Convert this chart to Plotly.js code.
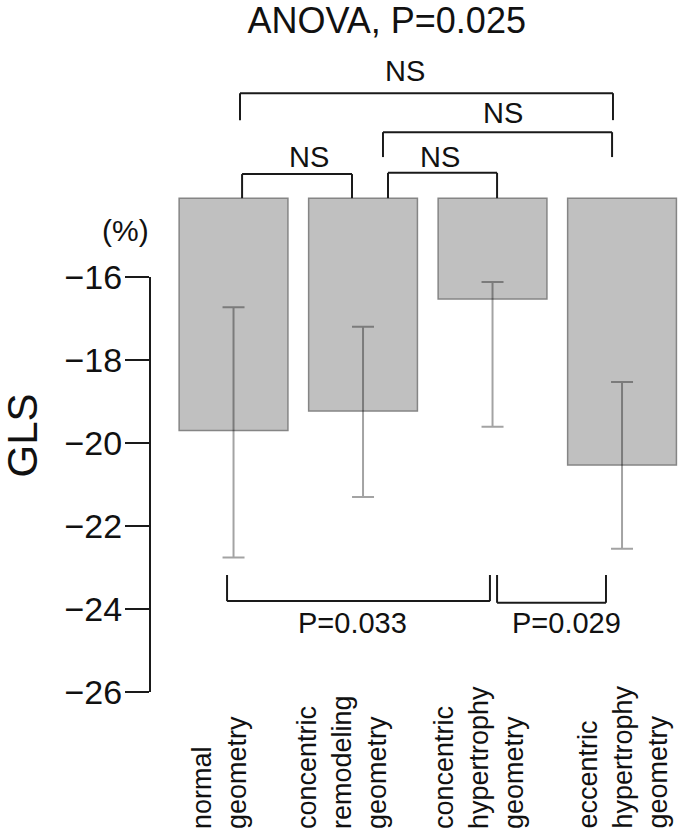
<!DOCTYPE html>
<html>
<head>
<meta charset="utf-8">
<script src="https://cdn.plot.ly/plotly-3.0.1.min.js"></script>
<style>html,body{margin:0;padding:0;background:#fff;}</style>
</head>
<body>
<div id="chart" style="width:693px;height:836px;"></div>
<script>
// ---- data ----
var categories = ["normal geometry", "concentric remodeling geometry", "concentric hypertrophy geometry", "eccentric hypertrophy geometry"];
var categoryLines = [["normal", "geometry"], ["concentric", "remodeling", "geometry"], ["concentric", "hypertrophy", "geometry"], ["eccentric", "hypertrophy", "geometry"]];
var glsMean = [-19.7, -19.23, -16.53, -20.53];
var errUp = [2.97, 2.03, 0.41, 2.0];
var errDown = [3.06, 2.07, 3.08, 2.02];
var barBase = -14.1;
var yTicks = [-16, -18, -20, -22, -24, -26];
var titleText = "ANOVA, P=0.025";
// comparisons: [x-left, x-right, y of bar line, y of leg end, label, label x, label y]
var topBrackets = [
  [0.05, 2.93, -11.57, -12.22, "NS", 1.324, -11.04],
  [1.154, 2.923, -12.51, -13.11, "NS", 2.08, -12.05],
  [0.066, 0.915, -13.52, -14.1, "NS", 0.583, -13.11],
  [1.193, 2.035, -13.49, -14.1, "NS", 1.595, -13.11]
];
var bottomBrackets = [
  [-0.05, 1.98, -23.81, -23.18, "P=0.033", 0.915, -24.34],
  [2.035, 2.876, -23.85, -23.18, "P=0.029", 2.568, -24.34]
];

var FONT = "Arial, 'Liberation Sans', sans-serif";
var xIdx = categories.map(function(c, i){ return i; });

var trace = {
  type: "bar",
  x: xIdx,
  y: glsMean.map(function(v){ return v - barBase; }),
  base: barBase,
  width: 0.84,
  marker: {color: "#c0c0c0", line: {color: "#858585", width: 1.5}},
  error_y: {type: "data", symmetric: false, array: errUp, arrayminus: errDown,
            color: "rgba(0,0,0,0.36)", thickness: 2, width: 11},
  hovertext: categories,
  showlegend: false
};

var shapes = [];
var annotations = [];
function addBracket(b) {
  var ln = {color: "#1a1a1a", width: 2};
  shapes.push({type: "line", xref: "x", yref: "y", x0: b[0], x1: b[1], y0: b[2], y1: b[2], line: ln});
  shapes.push({type: "line", xref: "x", yref: "y", x0: b[0], x1: b[0], y0: b[2], y1: b[3], line: ln});
  shapes.push({type: "line", xref: "x", yref: "y", x0: b[1], x1: b[1], y0: b[2], y1: b[3], line: ln});
  annotations.push({xref: "x", yref: "y", x: b[5], y: b[6], text: b[4], showarrow: false,
    xanchor: "center", yanchor: "middle", font: {family: FONT, size: 29, color: "#111"}});
}
topBrackets.forEach(addBracket);
bottomBrackets.forEach(addBracket);

// y axis line (only over tick span)
shapes.push({type: "line", xref: "paper", yref: "y", x0: 0, x1: 0, y0: yTicks[0], y1: yTicks[yTicks.length-1],
  line: {color: "#1a1a1a", width: 2}});

var xShift = [-14, -21, -13, 1];
categoryLines.forEach(function(lines, i){
  annotations.push({xref: "x", yref: "paper", x: i, y: 0.006, xshift: xShift[i], text: lines.join("<br>"),
    showarrow: false, textangle: -90, align: "left", xanchor: "center", yanchor: "bottom",
    font: {family: FONT, size: 27, color: "#111"}});
});

annotations.push({xref: "paper", yref: "y", x: -0.235, y: -19.81, text: "GLS", showarrow: false,
  textangle: -90, xanchor: "center", yanchor: "middle", font: {family: FONT, size: 42, color: "#111"}});
annotations.push({xref: "paper", yref: "y", x: -0.0442, y: -14.87, text: "(%)", showarrow: false,
  xanchor: "center", yanchor: "middle", font: {family: FONT, size: 30, color: "#111"}});

var layout = {
  width: 693, height: 836,
  margin: {l: 150, r: 0, t: 0, b: 0},
  paper_bgcolor: "#fff", plot_bgcolor: "#fff",
  title: {text: titleText, x: 0.558, xanchor: "center", y: 0.976, yanchor: "middle",
          font: {family: FONT, size: 36, color: "#111"}},
  xaxis: {range: [-0.645, 3.548], showticklabels: false, showline: false, showgrid: false,
          zeroline: false, ticks: "", fixedrange: true},
  yaxis: {range: [-29.47, -9.325], tickvals: yTicks, ticktext: yTicks.map(function(v){ return "\u2212" + Math.abs(v); }),
          ticks: "outside", ticklen: 24, tickwidth: 2, tickcolor: "#1a1a1a",
          ticklabelstandoff: -4,
          showline: false, showgrid: false, zeroline: false,
          tickfont: {family: FONT, size: 34, color: "#111"}},
  shapes: shapes,
  annotations: annotations,
  bargap: 0.16
};

Plotly.newPlot("chart", [trace], layout, {displayModeBar: false, staticPlot: true});
</script>
</body>
</html>
